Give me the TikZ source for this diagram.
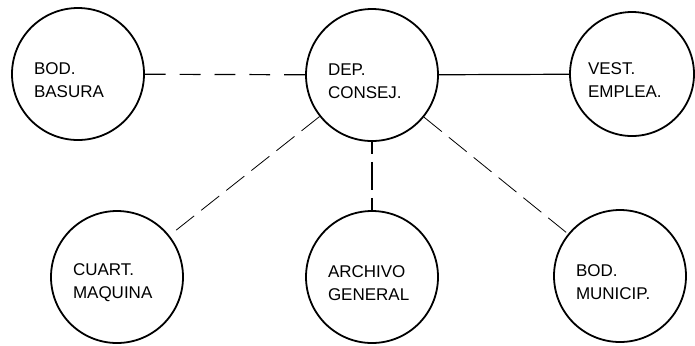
\documentclass[tikz,border=0pt]{standalone}
\usepackage{fontspec}
\setmainfont{Liberation Sans}
\usepackage{tikz}
\usetikzlibrary{positioning}

\begin{document}
\begin{tikzpicture}[x=0.5pt,y=-0.5pt,
  room/.style={draw=black,circle,line width=0.9pt,minimum size=66pt,
               inner sep=0pt,font=\fontsize{8.5}{11.5}\selectfont,
               text width=44pt,align=left,text height=12pt},
  longdash/.style={line width=0.6pt,dash pattern=on 10.4pt off 7pt},
  middash/.style={line width=0.6pt,dash pattern=on 14pt off 4pt,dash phase=8pt},
  thindash/.style={line width=0.4pt,dash pattern=on 11.5pt off 4.5pt},
  plain/.style={line width=0.6pt},
]
\useasboundingbox (0,0) rectangle (695,345);
\node[room] (basura) at (78,74) {BOD.\\BASURA};
\node[room] (dep) at (372,75) {DEP.\\CONSEJ.};
\node[room,minimum size=62pt] (vest) at (632,74) {VEST.\\EMPLEA.};
\node[room] (cuart) at (117,277) {CUART.\\MAQUINA};
\node[room] (archivo) at (372,277) {ARCHIVO\\GENERAL};
\node[room] (municip) at (620,276) {BOD.\\MUNICIP.};
\draw[longdash] (basura) -- (dep);
\draw[plain] (dep) -- (vest);
\draw[middash] (dep) -- (archivo);
\draw[thindash] (dep) -- (cuart);
\draw[thindash] (dep) -- (municip);
\end{tikzpicture}
\end{document}
